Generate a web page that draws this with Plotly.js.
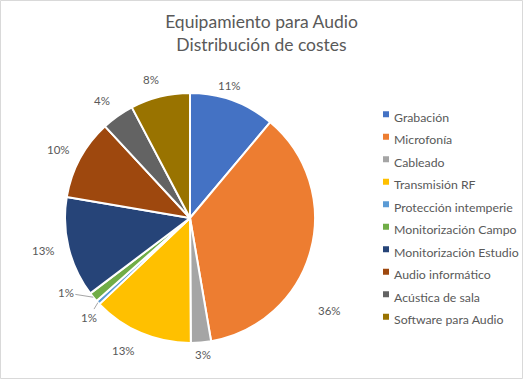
<!DOCTYPE html>
<html>
<head>
<meta charset="utf-8">
<script src="https://cdn.plot.ly/plotly-3.0.1.min.js"></script>
<style>html,body{margin:0;padding:0;background:#fff}#chart{width:523px;height:379px}</style>
</head>
<body>
<div id="chart"></div>
<script>
const categories = ["Grabación","Microfonía","Cableado","Transmisión RF","Protección intemperie","Monitorización Campo","Monitorización Estudio","Audio informático","Acústica de sala","Software para Audio"];
const values = [11.1, 36.2, 2.6, 13.0, 0.55, 1.25, 13.0, 10.4, 4.2, 7.7];
const colors = ["#4472C4","#ED7D31","#A5A5A5","#FFC000","#5B9BD5","#70AD47","#264478","#9E480E","#636363","#997300"];

// layout / style constants (pixels)
const W = 523, H = 379;
const cx = 190, cy = 218, r = 125, labelR = 145;
const labelShift = [[-10,4],[0,55],[0,-8],[-10,-1],[6,1],[-12,-17],[-6,-2],[-4,1],[-4,1],[-4,2]];
const leader = [false,false,false,false,true,true,false,false,false,false];
const FONT = 'Lato, sans-serif';
const GREY = '#595959';

const trace = {
  type: 'pie',
  labels: categories.map(c => '<span style="font-size:12.3px">' + c + '</span>'),
  values: values,
  sort: false,
  direction: 'clockwise',
  rotation: 0,
  marker: {colors: colors, line: {color: '#ffffff', width: 2}},
  textinfo: 'none',
  hoverinfo: 'label+percent',
  domain: {x: [(cx - r) / W, (cx + r) / W], y: [(H - cy - r) / H, (H - cy + r) / H]}
};

// percentage labels placed around the pie from the data
const total = values.reduce((a, b) => a + b, 0);
const annotations = [];
let cum = 0;
values.forEach((v, i) => {
  const mid = (cum + v / 2) / total * 2 * Math.PI;
  cum += v;
  const s = Math.sin(mid), c = Math.cos(mid);
  const lx = cx + labelR * s + labelShift[i][0];
  const ly = cy - labelR * c + labelShift[i][1];
  const txt = Math.round(v / total * 100) + '%';
  if (leader[i]) {
    const ex = cx + r * s, ey = cy - r * c;
    annotations.push({
      xref: 'paper', yref: 'paper', x: ex / W, y: 1 - ey / H,
      ax: lx - ex, ay: ly - ey, axref: 'pixel', ayref: 'pixel',
      xanchor: 'center', yanchor: 'middle',
      text: txt, showarrow: true, arrowhead: 0, arrowwidth: 1, arrowcolor: '#A6A6A6',
      font: {family: FONT, size: 11.5, color: GREY}
    });
  } else {
    annotations.push({
      xref: 'paper', yref: 'paper', x: lx / W, y: 1 - ly / H,
      xanchor: 'center', yanchor: 'middle', showarrow: false,
      text: txt, font: {family: FONT, size: 11.5, color: GREY}
    });
  }
});

const layout = {
  width: W, height: H,
  margin: {l: 0, r: 0, t: 0, b: 0, autoexpand: false},
  paper_bgcolor: '#ffffff',
  title: {
    text: 'Equipamiento para Audio<br>Distribución de costes',
    font: {family: FONT, size: 17.5, color: GREY},
    x: 0.5, xanchor: 'center', xref: 'container',
    y: 1 - 28 / H, yanchor: 'top', yref: 'container'
  },
  showlegend: true,
  legend: {
    x: 354 / W, xanchor: 'left',
    y: (H - 217) / H, yanchor: 'middle',
    font: {family: FONT, size: 15, color: GREY},
    bgcolor: 'rgba(0,0,0,0)'
  },
  annotations: annotations,
  shapes: [{type: 'rect', xref: 'paper', yref: 'paper', x0: 0.5 / W, x1: 1 - 0.5 / W, y0: 0.5 / H, y1: 1 - 0.5 / H, line: {color: '#D9D9D9', width: 1}}]
};

Plotly.newPlot('chart', [trace], layout, {displayModeBar: false, staticPlot: true}).then(gd => {
  gd.querySelectorAll('.legend .legendpoints path').forEach(p => {
    p.setAttribute('d', 'M15,1.5H9V-4.5H15Z');
    p.style.strokeWidth = '0';
  });
});
</script>
</body>
</html>
